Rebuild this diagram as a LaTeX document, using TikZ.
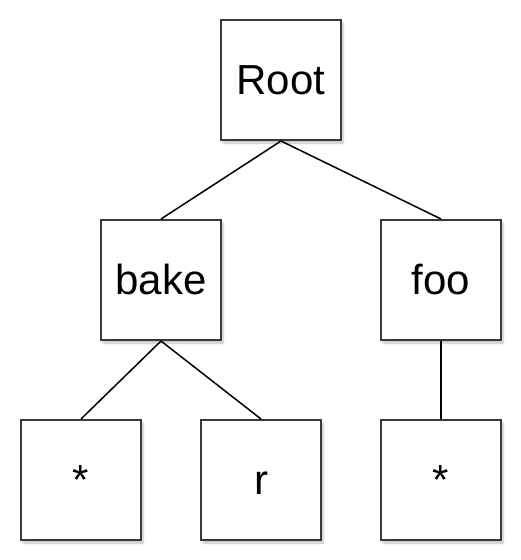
\documentclass[tikz,border=0pt]{standalone}
\usepackage{fontspec}
\setmainfont{Liberation Sans}
\usetikzlibrary{shadows.blur}
\definecolor{boxline}{HTML}{36393D}
\tikzset{
  treebox/.style={draw=boxline, line width=2pt, fill=white, minimum size=120pt,
    inner sep=0pt, text height=29pt, text depth=0pt,
    font=\fontsize{42}{42}\selectfont,
    blur shadow={shadow xshift=2pt, shadow yshift=-3pt, shadow blur steps=6, shadow opacity=25}},
  treeedge/.style={draw=black, line width=1.5pt}
}
\begin{document}
\begin{tikzpicture}[x=1pt, y=-1pt]
\useasboundingbox (0,0) rectangle (520,560);
\node[treebox] (root) at (281,80) {Root};
\node[treebox] (bake) at (161,280) {bake};
\node[treebox] (foo) at (441,280) {foo};
\node[treebox] (s1) at (81,480) {*};
\node[treebox] (r) at (261,480) {r};
\node[treebox] (s2) at (441,480) {*};
\draw[treeedge] (root.south) -- (bake.north);
\draw[treeedge] (root.south) -- (foo.north);
\draw[treeedge] (bake.south) -- (s1.north);
\draw[treeedge] (bake.south) -- (r.north);
\draw[treeedge] (foo.south) -- (s2.north);
\end{tikzpicture}
\end{document}
